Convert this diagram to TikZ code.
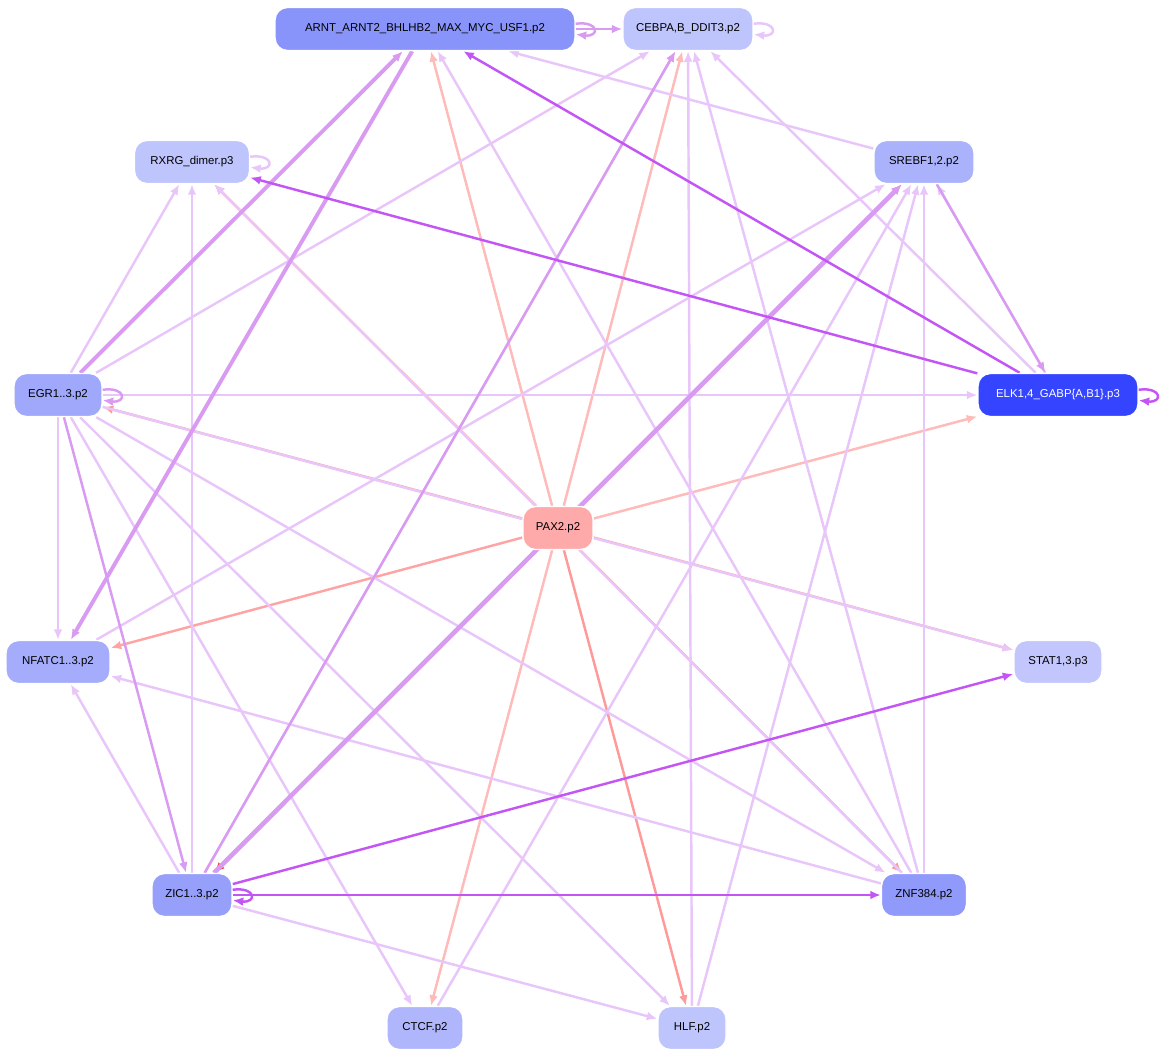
\documentclass[tikz,border=0pt]{standalone}
\usepackage{fontspec}
\setmainfont{Liberation Sans}
\usetikzlibrary{arrows.meta,backgrounds}
\definecolor{lilac}{HTML}{E8C6FA}
\definecolor{mauve}{HTML}{D99AF2}
\definecolor{violet}{HTML}{C455F5}
\definecolor{rose}{HTML}{FFBABA}
\definecolor{salmon}{HTML}{FF9A9A}
\definecolor{scarlet}{HTML}{EE4444}
\tikzset{
  tf/.style={draw=white,line width=0.8pt,rounded corners=7pt,minimum height=0.86cm,
    font=\fontsize{6.5}{8}\selectfont,inner xsep=6pt},
  e/.style={->,line width=1.4pt},
}
\begin{document}
\begin{tikzpicture}[x=0.02cm,y=-0.02cm,>/.tip={Latex[length=6pt,width=5pt]}]
	\useasboundingbox (0,0) rectangle (1170,1059);
	\node (arnt) [tf,fill={rgb,255:red,136;green,148;blue,250},minimum width=6cm] at (425,29) {ARNT\_ARNT2\_BHLHB2\_MAX\_MYC\_USF1.p2};
	\node (cebpa) [tf,fill={rgb,255:red,190;green,196;blue,252},minimum width=2.6cm] at (688,29) {CEBPA,B\_DDIT3.p2};
	\node (rxrg) [tf,fill={rgb,255:red,190;green,196;blue,252},minimum width=2.3cm] at (192,162) {RXRG\_dimer.p3};
	\node (srebf) [tf,fill={rgb,255:red,170;green,178;blue,251},minimum width=2cm] at (924,162) {SREBF1,2.p2};
	\node (egr) [tf,fill={rgb,255:red,160;green,168;blue,251},minimum width=1.76cm] at (58,395) {EGR1..3.p2};
	\node (elk) [tf,fill={rgb,255:red,52;green,68;blue,255},text=white,minimum width=3.2cm] at (1058,395) {ELK1,4\_GABP\{A,B1\}.p3};
	\node (pax) [tf,fill={rgb,255:red,255;green,170;blue,170},minimum width=1.4cm] at (558,528) {PAX2.p2};
	\node (nfatc) [tf,fill={rgb,255:red,164;green,172;blue,251},minimum width=2.08cm] at (58,662) {NFATC1..3.p2};
	\node (stat) [tf,fill={rgb,255:red,194;green,198;blue,252},minimum width=1.76cm] at (1058,662) {STAT1,3.p3};
	\node (zic) [tf,fill={rgb,255:red,150;green,160;blue,250},minimum width=1.6cm] at (192,895) {ZIC1..3.p2};
	\node (znf) [tf,fill={rgb,255:red,144;green,154;blue,250},minimum width=1.7cm] at (924,895) {ZNF384.p2};
	\node (ctcf) [tf,fill={rgb,255:red,176;green,182;blue,251},minimum width=1.52cm] at (425,1028) {CTCF.p2};
	\node (hlf) [tf,fill={rgb,255:red,190;green,196;blue,252},minimum width=1.36cm] at (692,1028) {HLF.p2};

	\begin{scope}[on background layer]
	% edges out of PAX2
	\foreach \t/\c in {arnt/rose,cebpa/rose,rxrg/salmon!70!rose,srebf/salmon!70!rose,elk/rose,
	    egr/salmon,nfatc/salmon!70!rose,stat/salmon!70!rose,zic/scarlet,znf/salmon,hlf/salmon,ctcf/rose}
	  \draw[e,\c] (pax) -- (\t);
	% light edges
	\foreach \s/\t in {egr/cebpa,egr/rxrg,egr/elk,egr/nfatc,egr/ctcf,egr/hlf,egr/znf,egr/stat,
	    srebf/arnt,elk/srebf,nfatc/srebf,zic/rxrg,zic/nfatc,zic/hlf,zic/cebpa,
	    znf/cebpa,znf/arnt,znf/rxrg,znf/srebf,hlf/srebf,hlf/cebpa,ctcf/srebf,znf/nfatc,elk/cebpa}
	  \draw[e,lilac] (\s) -- (\t);
	% medium edges
	\draw[e,mauve,line width=2.2pt] (egr) -- (arnt);
	\draw[e,mauve,line width=2.2pt] (arnt) -- (nfatc);
	\draw[e,mauve,line width=2.6pt] (zic) -- (srebf);
	\draw[e,mauve] (zic) -- (cebpa);
	\draw[e,mauve] (egr) -- (zic);
	\draw[e,mauve] (srebf) -- (elk);
	% strong edges
	\draw[e,violet] (elk) -- (arnt);
	\draw[e,violet] (elk) -- (rxrg);
	\draw[e,violet] (zic) -- (stat);
	\draw[e,violet] (zic) -- (znf);
	\draw[e,mauve] (arnt) -- (cebpa);
	\end{scope}
	% self loops
	\foreach \n/\c in {arnt/mauve,cebpa/lilac,rxrg/lilac,egr/mauve,elk/violet,zic/violet}
	  \draw[e,\c] ([yshift=3pt]\n.east) .. controls +(24,-3) and +(24,3) .. ([yshift=-3pt]\n.east);
\end{tikzpicture}
\end{document}
